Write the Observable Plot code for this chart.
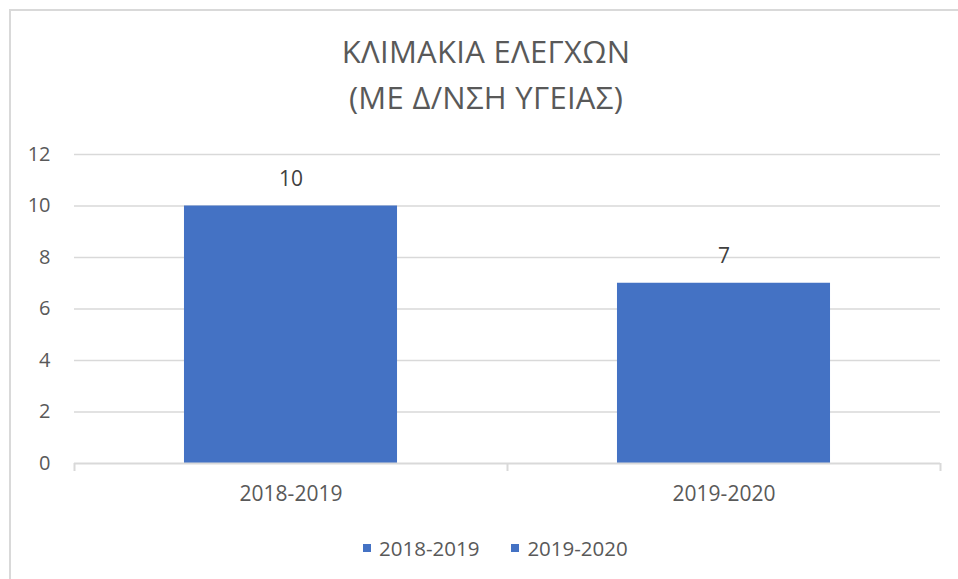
<!DOCTYPE html>
<html><head><meta charset="utf-8">
<script src="https://cdn.jsdelivr.net/npm/d3@7"></script>
<script src="https://cdn.jsdelivr.net/npm/@observablehq/plot@0.6"></script>
<style>
html,body{margin:0;padding:0;background:#fff;}
#chart{position:relative;width:958px;height:579px;overflow:hidden;font-family:"Open Sans",sans-serif;background:#fff;}
#frame{position:absolute;left:9px;top:9px;width:1100px;height:1100px;border:2px solid #d9d9d9;box-sizing:border-box;}
.title{position:absolute;left:0;width:972px;text-align:center;color:#595959;font-size:31px;letter-spacing:0.3px;white-space:nowrap;line-height:1;}
#plot{position:absolute;left:0;top:0;}
#legend{position:absolute;left:363px;top:534px;display:flex;align-items:center;color:#595959;font-size:20.5px;white-space:nowrap;}
.item{display:flex;align-items:center;margin-right:32px;}
.sw{width:8px;height:8px;margin-right:8px;}
</style>
</head><body>
<div id="chart">
  <div id="frame"></div>
  <div class="title" id="t1" style="top:36px"></div>
  <div class="title" id="t2" style="top:82px"></div>
  <div id="plot"></div>
  <div id="legend"></div>
</div>
<script>
const titleLines = ["ΚΛΙΜΑΚΙΑ ΕΛΕΓΧΩΝ", "(ΜΕ Δ/ΝΣΗ ΥΓΕΙΑΣ)"];
const categories = ["2018-2019", "2019-2020"];
const values = [10, 7];
const yTicks = [0, 2, 4, 6, 8, 10, 12];
const legendLabels = ["2018-2019", "2019-2020"];
const barColor = "#4472C4";

document.getElementById("t1").textContent = titleLines[0];
document.getElementById("t2").textContent = titleLines[1];

const data = categories.map((c, i) => ({cat: c, value: values[i]}));

const W = 958, H = 510;
const mL = 74, mR = 18, mT = 154, mB = 47;
const xOpts = {type: "band", domain: categories, paddingInner: 0.508, paddingOuter: 0.254, round: false};
const xs = Plot.scale({x: {...xOpts, range: [mL, W - mR]}});
const step = xs.step;

const plot = Plot.plot({
  width: W, height: H,
  marginLeft: mL, marginRight: mR, marginTop: mT, marginBottom: mB,
  style: {fontFamily: "'Open Sans', sans-serif", background: "transparent", overflow: "visible"},
  x: {...xOpts, label: null},
  y: {domain: [0, 12], label: null},
  marks: [
    Plot.ruleY(yTicks.filter(t => t > 0), {stroke: "#d9d9d9", strokeWidth: 1.5}),
    Plot.barY(data, {x: "cat", y: "value", fill: barColor}),
    Plot.ruleY([0], {stroke: "#d9d9d9", strokeWidth: 2}),
    Plot.ruleX(categories, {x: d => d, y1: 0, y2: 0, insetBottom: -8, dx: -step / 2, stroke: "#d9d9d9", strokeWidth: 2}),
    Plot.ruleX(categories.slice(-1), {x: d => d, y1: 0, y2: 0, insetBottom: -8, dx: step / 2, stroke: "#d9d9d9", strokeWidth: 2}),
    Plot.text(data, {x: "cat", y: "value", text: d => String(d.value), dy: -27, fontSize: 21, fill: "#404040"}),
    Plot.axisY({ticks: yTicks, tickSize: 0, tickPadding: 24, fontSize: 20, color: "#595959", tickFormat: d => String(d)}),
    Plot.axisX({tickSize: 0, tickPadding: 23, fontSize: 21, color: "#595959"})
  ]
});
document.getElementById("plot").appendChild(plot);

const lg = document.getElementById("legend");
legendLabels.forEach(l => {
  const it = document.createElement("div");
  it.className = "item";
  const sw = document.createElement("div");
  sw.className = "sw";
  sw.style.background = barColor;
  const tx = document.createElement("span");
  tx.textContent = l;
  it.appendChild(sw); it.appendChild(tx);
  lg.appendChild(it);
});
</script>
</body></html>
